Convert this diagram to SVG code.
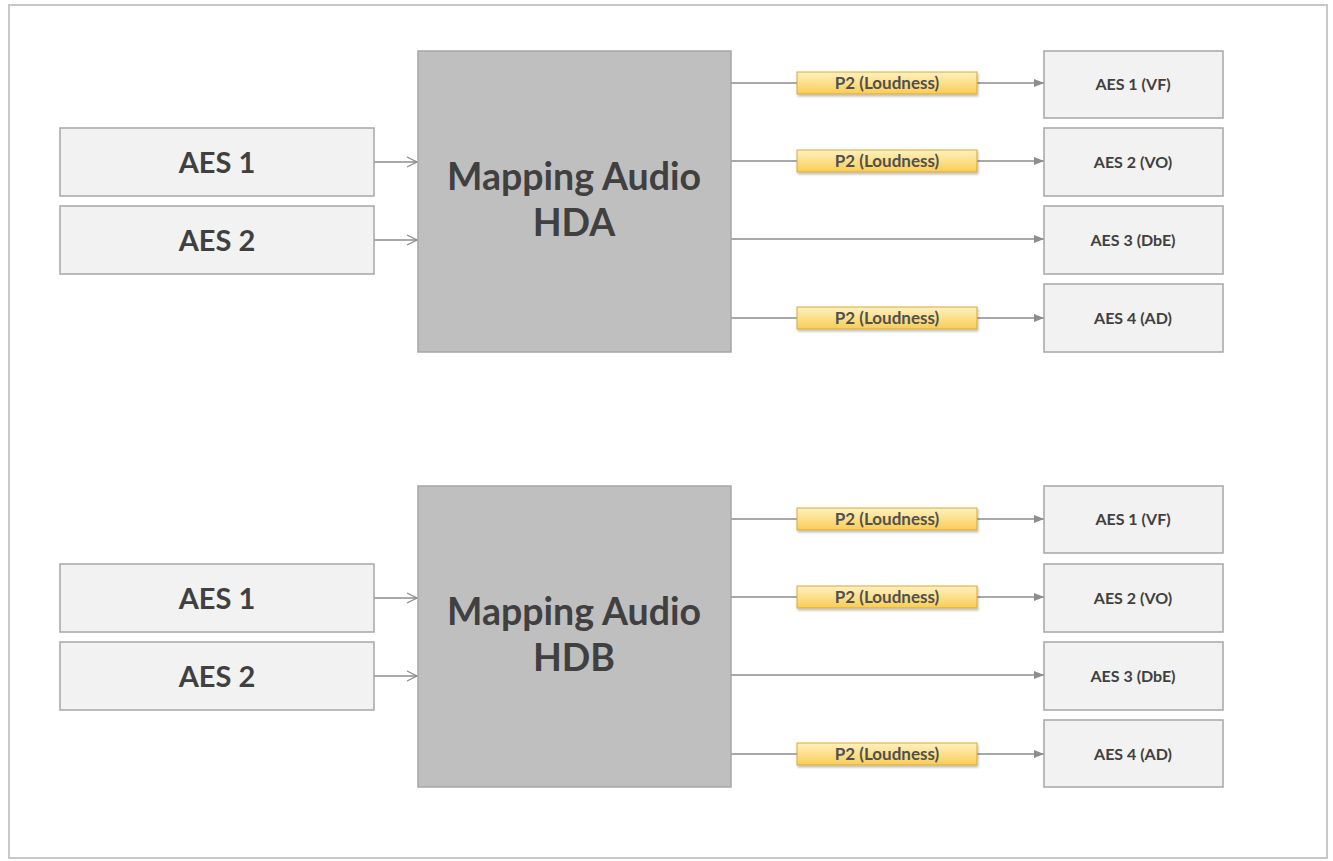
<svg xmlns="http://www.w3.org/2000/svg" width="1333" height="861" viewBox="0 0 1333 861">
<defs>
<linearGradient id="yel" x1="0" y1="0" x2="0" y2="1">
<stop offset="0" stop-color="#fef0c0"/>
<stop offset="0.5" stop-color="#fde08a"/>
<stop offset="1" stop-color="#f8cc58"/>
</linearGradient>
<marker id="open" viewBox="0 0 12 12" refX="11" refY="6" markerWidth="12" markerHeight="12" markerUnits="userSpaceOnUse" orient="auto">
<path d="M1,1 L11,6 L1,11" fill="none" stroke="#8c8c8c" stroke-width="1.3"/>
</marker>
<marker id="tri" viewBox="0 0 10 10" refX="10" refY="5" markerWidth="10" markerHeight="10" markerUnits="userSpaceOnUse" orient="auto">
<path d="M0,1 L10,5 L0,9 Z" fill="#8c8c8c"/>
</marker>
<filter id="sh" x="-10%" y="-30%" width="120%" height="170%">
<feDropShadow dx="1" dy="2" stdDeviation="1.2" flood-color="#000" flood-opacity="0.25"/>
</filter>
</defs>
<style>
.frame{fill:#fff;stroke:#c8c8c8;stroke-width:2}
.in{fill:#f2f2f2;stroke:#a6a6a6;stroke-width:1.5}
.map{fill:#bfbfbf;stroke:#a6a6a6;stroke-width:1.5}
.out{fill:#f2f2f2;stroke:#a6a6a6;stroke-width:1.5}
.p2{fill:url(#yel);stroke:#d9a930;stroke-width:1;filter:url(#sh)}
.t{font-family:Lato,"Open Sans","Liberation Sans",sans-serif;font-weight:bold;fill:#404040;text-anchor:middle}
.tin{font-size:29px}
.tmap{font-size:37.5px}
.tout{font-size:16px}
.tp2{font-size:17px;fill:#505050}
.c{stroke:#8c8c8c;stroke-width:1.3;fill:none}
</style>
<rect class="frame" x="9" y="5" width="1318" height="853"/>

<g id="connectors">
<line class="c" x1="374" y1="162" x2="417" y2="162" marker-end="url(#open)"/>
<line class="c" x1="374" y1="240" x2="417" y2="240" marker-end="url(#open)"/>
<line class="c" x1="731" y1="83" x2="797" y2="83"/>
<line class="c" x1="977" y1="83" x2="1044" y2="83" marker-end="url(#tri)"/>
<line class="c" x1="731" y1="161" x2="797" y2="161"/>
<line class="c" x1="977" y1="161" x2="1044" y2="161" marker-end="url(#tri)"/>
<line class="c" x1="731" y1="239" x2="1044" y2="239" marker-end="url(#tri)"/>
<line class="c" x1="731" y1="318" x2="797" y2="318"/>
<line class="c" x1="977" y1="318" x2="1044" y2="318" marker-end="url(#tri)"/>

<line class="c" x1="374" y1="598" x2="417" y2="598" marker-end="url(#open)"/>
<line class="c" x1="374" y1="676" x2="417" y2="676" marker-end="url(#open)"/>
<line class="c" x1="731" y1="519" x2="797" y2="519"/>
<line class="c" x1="977" y1="519" x2="1044" y2="519" marker-end="url(#tri)"/>
<line class="c" x1="731" y1="597" x2="797" y2="597"/>
<line class="c" x1="977" y1="597" x2="1044" y2="597" marker-end="url(#tri)"/>
<line class="c" x1="731" y1="675" x2="1044" y2="675" marker-end="url(#tri)"/>
<line class="c" x1="731" y1="754" x2="797" y2="754"/>
<line class="c" x1="977" y1="754" x2="1044" y2="754" marker-end="url(#tri)"/>
</g>

<g id="a-in1"><rect class="in" x="60" y="128" width="314" height="68"/><text class="t tin" x="217" y="173">AES 1</text></g>
<g id="a-in2"><rect class="in" x="60" y="206" width="314" height="68"/><text class="t tin" x="217" y="251">AES 2</text></g>
<g id="a-map"><rect class="map" x="418" y="51" width="313" height="301"/><text class="t tmap" x="574" y="190">Mapping Audio</text><text class="t tmap" x="574" y="236">HDA</text></g>
<g id="a-p2-1"><rect class="p2" x="797" y="72" width="180" height="22"/><text class="t tp2" x="887" y="89">P2 (Loudness)</text></g>
<g id="a-p2-2"><rect class="p2" x="797" y="150" width="180" height="22"/><text class="t tp2" x="887" y="167">P2 (Loudness)</text></g>
<g id="a-p2-4"><rect class="p2" x="797" y="307" width="180" height="22"/><text class="t tp2" x="887" y="324">P2 (Loudness)</text></g>
<g id="a-out1"><rect class="out" x="1044" y="51" width="179" height="67"/><text class="t tout" x="1133" y="90">AES 1 (VF)</text></g>
<g id="a-out2"><rect class="out" x="1044" y="128" width="179" height="68"/><text class="t tout" x="1133" y="168">AES 2 (VO)</text></g>
<g id="a-out3"><rect class="out" x="1044" y="206" width="179" height="68"/><text class="t tout" x="1133" y="246">AES 3 (DbE)</text></g>
<g id="a-out4"><rect class="out" x="1044" y="284" width="179" height="68"/><text class="t tout" x="1133" y="324">AES 4 (AD)</text></g>

<g id="b-in1"><rect class="in" x="60" y="564" width="314" height="68"/><text class="t tin" x="217" y="609">AES 1</text></g>
<g id="b-in2"><rect class="in" x="60" y="642" width="314" height="68"/><text class="t tin" x="217" y="687">AES 2</text></g>
<g id="b-map"><rect class="map" x="418" y="486" width="313" height="301"/><text class="t tmap" x="574" y="625">Mapping Audio</text><text class="t tmap" x="574" y="671">HDB</text></g>
<g id="b-p2-1"><rect class="p2" x="797" y="508" width="180" height="22"/><text class="t tp2" x="887" y="525">P2 (Loudness)</text></g>
<g id="b-p2-2"><rect class="p2" x="797" y="586" width="180" height="22"/><text class="t tp2" x="887" y="603">P2 (Loudness)</text></g>
<g id="b-p2-4"><rect class="p2" x="797" y="743" width="180" height="22"/><text class="t tp2" x="887" y="760">P2 (Loudness)</text></g>
<g id="b-out1"><rect class="out" x="1044" y="486" width="179" height="67"/><text class="t tout" x="1133" y="525">AES 1 (VF)</text></g>
<g id="b-out2"><rect class="out" x="1044" y="564" width="179" height="68"/><text class="t tout" x="1133" y="604">AES 2 (VO)</text></g>
<g id="b-out3"><rect class="out" x="1044" y="642" width="179" height="68"/><text class="t tout" x="1133" y="682">AES 3 (DbE)</text></g>
<g id="b-out4"><rect class="out" x="1044" y="720" width="179" height="67"/><text class="t tout" x="1133" y="760">AES 4 (AD)</text></g>
</svg>
